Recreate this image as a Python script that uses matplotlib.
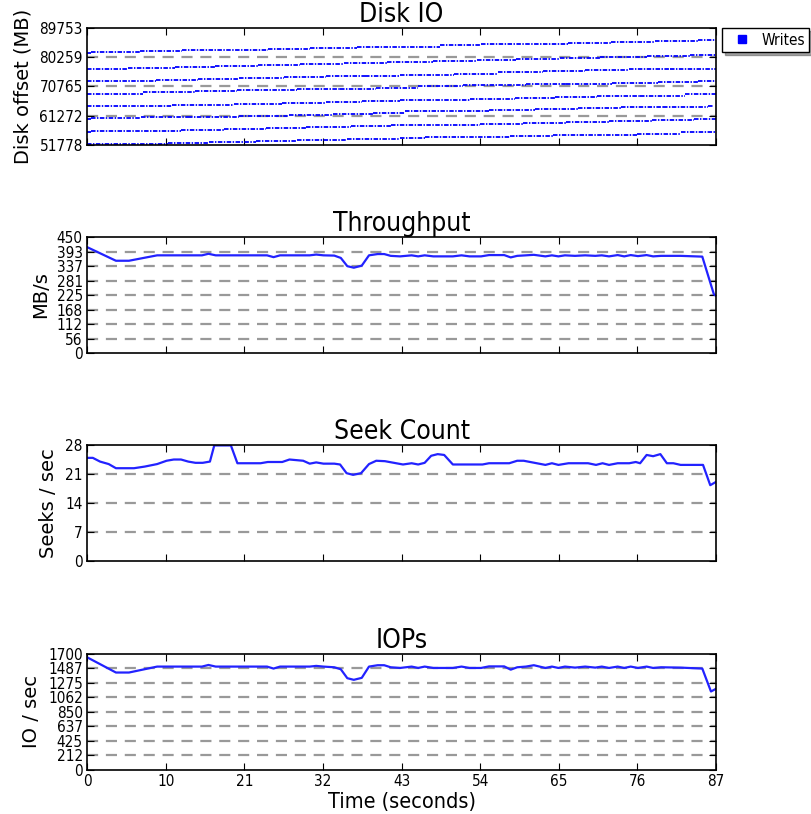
import matplotlib
matplotlib.use("Agg")
import matplotlib.pyplot as plt
from matplotlib.lines import Line2D
from matplotlib import font_manager as fm
import numpy as np

# ---- data ----
x_tick_pos = np.linspace(0, 87, 9)
x_tick_labels = ["0", "10", "21", "32", "43", "54", "65", "76", "87"]

disk_ticks = [51778, 61272, 70765, 80259, 89753]

# each write band: step start times (s) and offsets (MB)
band1_t = [0, 0.5, 7.3, 13.1, 25.0, 30.8, 37.4, 48.8, 54.5, 66.5, 72.5, 78.5, 84.5, 87]
band1_mb = [81550, 81980, 82300, 82630, 82960, 83290, 83620, 84380, 84600, 84820, 85250, 85580, 85900, 85900]
band2_t = [0, 5.7, 12.2, 17.7, 23.6, 29.5, 35.5, 41.5, 47.9, 53.9, 59.4, 65.4, 70.9, 77.4, 83.4, 87]
band2_mb = [76300, 76720, 77050, 77380, 77710, 78040, 78300, 78600, 78920, 79350, 79680, 80100, 80430, 80600, 80950, 80950]
band3_t = [0, 9.6, 15.3, 21, 27.2, 33, 38.5, 43.3, 50.7, 56.9, 63.1, 68.9, 74.9, 80.6, 87]
band3_mb = [72460, 72790, 73110, 73440, 73870, 74100, 74250, 74420, 74980, 75310, 75640, 75970, 76300, 76490, 76490]
band4_t = [0, 7.8, 14.9, 20.8, 29, 35, 40, 45.8, 52, 60.7, 66.3, 72.6, 79, 84.5, 87]
band4_mb = [68420, 68850, 69180, 69500, 69830, 70100, 70400, 70820, 71140, 71470, 71700, 72030, 72230, 72550, 72550]
band5_t = [0, 11.8, 20.3, 27, 33, 38, 43.3, 53, 59.2, 64.7, 70.5, 76.5, 82.7, 87]
band5_mb = [64370, 64700, 65040, 65340, 65600, 65900, 66220, 66650, 66980, 67310, 67640, 67800, 68190, 68190]
band6_t = [0, 0.5, 7.4, 14, 21, 28, 34, 39.5, 44, 55.6, 61.9, 67.9, 73.9, 79.7, 85.9, 86.6]
band6_mb = [60210, 60540, 60760, 61000, 61270, 61540, 61800, 62050, 62710, 63040, 63370, 63700, 64020, 64250, 64480, 64480]
band7_t = [0, 0.5, 13, 18.9, 24.8, 30.3, 36.5, 42, 54.3, 60.3, 66.3, 72.2, 78.2, 84, 87]
band7_mb = [56050, 56380, 56700, 57030, 57360, 57690, 57950, 58240, 58570, 58900, 59230, 59560, 59890, 60310, 60310]
band8_t = [0, 11.2, 16.9, 23.4, 29.1, 36, 43.3, 46.8, 58.5, 64.5, 76, 82.2, 87]
band8_mb = [52010, 52430, 52760, 53090, 53520, 53750, 53980, 54310, 54730, 55160, 55490, 55950, 55950]

tput_t = [0, 4, 5.8, 9.7, 15.9, 16.8, 17.8, 24.9, 25.8, 26.7, 30.8, 31.7, 32.7, 34.2, 35.1, 36.0,
          36.9, 38.0, 39.0, 40.2, 41.1, 42.0, 43.3, 44.9, 45.8, 46.7, 47.9, 50.6, 51.8, 52.9, 54.5,
          55.6, 57.7, 58.6, 59.5, 60.7, 61.8, 63.4, 64.3, 65.2, 66.1, 67.5, 68.9, 70.3, 71.2, 72.2,
          73.4, 74.3, 75.2, 76.2, 77.4, 78.3, 79.4, 82.1, 85.1, 86.7, 87]
tput_v = [411, 358, 358, 379, 379, 385, 379, 379, 372, 379, 379, 382, 379, 378, 369, 337,
          331, 339, 379, 384, 384, 377, 375, 379, 375, 379, 375, 375, 379, 375, 375,
          380, 380, 371, 377, 379, 381, 375, 379, 375, 379, 377, 379, 377, 379, 375,
          380, 375, 380, 376, 380, 375, 377, 377, 374, 228, 222]

seek_t = [0, 0.8, 1.8, 3, 4, 5.5, 6.5, 8, 9.7, 11, 12, 13, 14, 15, 16, 17, 17.6, 19.9, 20.8, 24,
          25, 27, 28, 29.9, 30.8, 31.7, 32.7, 34.2, 35, 35.9, 36.8, 37.9, 39, 40, 41.2, 43.7,
          44.9, 45.8, 46.7, 47.6, 48.5, 49.4, 50.6, 54.7, 55.6, 58.4, 59.5, 60.4, 63.4, 64.3,
          65.2, 66.6, 69.3, 70.4, 71.3, 72.2, 73.4, 75, 75.9, 76.5, 77.4, 78.3, 79.3, 80.2,
          81.1, 82.1, 85.2, 86.2, 87]
seek_v = [24.9, 24.9, 24.0, 23.4, 22.4, 22.4, 22.4, 22.8, 23.4, 24.2, 24.5, 24.5, 24.0, 23.7,
          23.7, 24.0, 27.9, 27.9, 23.6, 23.6, 23.9, 23.9, 24.5, 24.2, 23.5, 23.8, 23.5, 23.5,
          23.3, 21.2, 20.8, 21.2, 23.4, 24.2, 24.1, 23.3, 23.6, 23.3, 23.7, 25.4, 25.8, 25.6,
          23.3, 23.3, 23.6, 23.6, 24.2, 24.2, 23.2, 23.6, 23.2, 23.6, 23.6, 23.2, 23.6, 23.2,
          23.6, 23.6, 23.9, 23.6, 25.6, 25.3, 25.8, 23.6, 23.6, 23.2, 23.2, 18.3, 19.1]

iops_t = [0, 4, 5.8, 9.7, 15.9, 16.8, 17.8, 24.9, 25.8, 26.7, 30.8, 31.7, 32.7, 34.2, 35.1, 36.0,
          36.9, 38.0, 39.0, 40.2, 41.1, 42.0, 43.3, 44.9, 45.8, 46.7, 47.9, 50.6, 51.8, 52.9, 54.5,
          55.6, 57.7, 58.6, 59.5, 60.7, 61.8, 63.4, 64.3, 65.2, 66.1, 67.5, 68.9, 70.3, 71.2, 72.2,
          73.4, 74.3, 75.2, 76.2, 77.4, 78.3, 79.4, 82.1, 85.1, 86.3, 87]
iops_v = [1652, 1428, 1428, 1515, 1515, 1539, 1515, 1515, 1486, 1515, 1515, 1525, 1515, 1505, 1476, 1345,
          1321, 1350, 1515, 1535, 1535, 1505, 1495, 1515, 1495, 1515, 1495, 1495, 1515, 1495, 1495,
          1518, 1518, 1470, 1505, 1515, 1535, 1495, 1515, 1495, 1515, 1500, 1515, 1500, 1515, 1495,
          1515, 1495, 1515, 1495, 1515, 1495, 1505, 1500, 1486, 1150, 1190]

tput_ticks = np.linspace(0, 450, 9)
seek_ticks = [0, 7, 14, 21, 28]
iops_ticks = np.linspace(0, 1700, 9)

# ---- fonts: look for a condensed / narrow face ----
narrow_path = None
for pattern in ["DejaVuSansCondensed.ttf", "LiberationSansNarrow-Regular.ttf", "Condensed", "Narrow"]:
    for f in fm.fontManager.ttflist:
        if pattern in f.fname and "Bold" not in f.fname and "Oblique" not in f.fname and "Italic" not in f.fname:
            narrow_path = f.fname
            break
    if narrow_path:
        break


def nfont(size):
    if narrow_path:
        return fm.FontProperties(fname=narrow_path, size=size)
    return fm.FontProperties(family="DejaVu Sans", size=size * 0.9)


tick_fp = nfont(11)
blue = "#2222ff"


def style_axes(ax, yticks, ylabels, show_x):
    ax.set_xlim(0, 87)
    ax.set_ylim(yticks[0], yticks[-1])
    ax.set_xticks(x_tick_pos)
    ax.set_yticks(yticks)
    ax.set_yticklabels(ylabels, fontproperties=tick_fp)
    if show_x:
        ax.set_xticklabels(x_tick_labels, fontproperties=tick_fp)
    else:
        ax.set_xticklabels([])
    ax.tick_params(direction="in", length=5, width=0.8, top=True, right=True, pad=3)
    for sp in ax.spines.values():
        sp.set_linewidth(1.2)
    for y in yticks[1:-1]:
        ax.axhline(y, color="#999999", lw=1.6, linestyle=(0, (5, 3.5)), zorder=0)


fig = plt.figure(figsize=(8.11, 8.14), dpi=100)
ax1 = fig.add_axes([0.1073, 0.8219, 0.7756, 0.1437])
ax2 = fig.add_axes([0.1073, 0.5663, 0.7756, 0.1425])
ax3 = fig.add_axes([0.1073, 0.3108, 0.7756, 0.1425])
ax4 = fig.add_axes([0.1073, 0.0541, 0.7756, 0.1425])

bands = [(band1_t, band1_mb), (band2_t, band2_mb), (band3_t, band3_mb), (band4_t, band4_mb),
         (band5_t, band5_mb), (band6_t, band6_mb), (band7_t, band7_mb), (band8_t, band8_mb)]
for bt, bmb in bands:
    ax1.hlines(bmb[:-1], bt[:-1], bt[1:], colors="blue", linewidth=1.3,
               linestyles=[(0, (2.5, 0.8, 0.8, 0.8))])
style_axes(ax1, disk_ticks, [str(v) for v in disk_ticks], False)
ax1.set_title("Disk IO", fontproperties=nfont(19), pad=4)
ax1.set_ylabel("Disk offset (MB)", fontsize=14, labelpad=5)
handle = Line2D([], [], color="blue", marker="s", linestyle="none", markersize=6)
leg = ax1.legend([handle], ["Writes"], loc="upper left", bbox_to_anchor=(1.01, 1.0),
                 numpoints=1, prop=nfont(11), shadow=True, fancybox=False,
                 borderaxespad=0, handletextpad=0.25, borderpad=0.3)
leg.get_frame().set_edgecolor("black")
leg.get_frame().set_linewidth(1.0)

ax2.plot(tput_t, tput_v, color=blue, lw=1.6)
style_axes(ax2, tput_ticks, [str(int(v)) for v in tput_ticks], False)
ax2.set_title("Throughput", fontproperties=nfont(19), pad=4)
ax2.set_ylabel("MB/s", fontsize=14, labelpad=5)

ax3.plot(seek_t, seek_v, color=blue, lw=1.6)
style_axes(ax3, seek_ticks, [str(v) for v in seek_ticks], False)
ax3.set_title("Seek Count", fontproperties=nfont(19), pad=4)
ax3.set_ylabel("Seeks / sec", fontsize=14, labelpad=5)

ax4.plot(iops_t, iops_v, color=blue, lw=1.6)
style_axes(ax4, iops_ticks, [str(int(v)) for v in iops_ticks], True)
ax4.set_title("IOPs", fontproperties=nfont(19), pad=4)
ax4.set_ylabel("IO / sec", fontsize=14, labelpad=5)
ax4.set_xlabel("Time (seconds)", fontproperties=nfont(15.5), labelpad=2)

fig.savefig("out.png", dpi=100)
